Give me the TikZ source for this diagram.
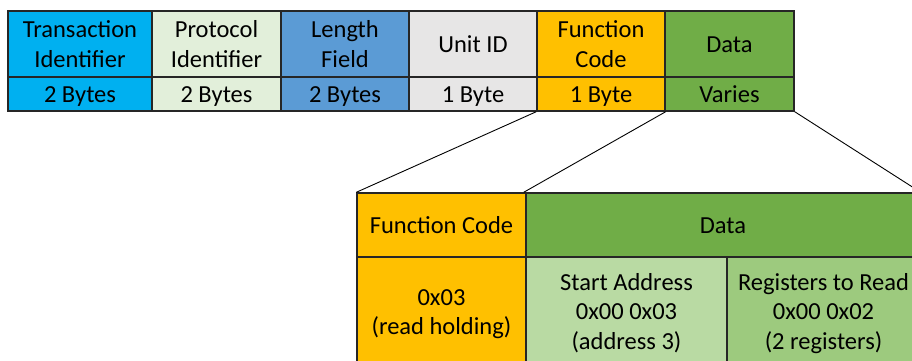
\documentclass[tikz,border=0pt]{standalone}
\usepackage{fontspec}
\setmainfont{Carlito}
\definecolor{cTid}{HTML}{00B0F0}
\definecolor{cPid}{HTML}{E2EFDA}
\definecolor{cLen}{HTML}{5B9BD5}
\definecolor{cUid}{HTML}{E7E6E6}
\definecolor{cFc}{HTML}{FFC000}
\definecolor{cData}{HTML}{70AD47}
\definecolor{cAddr}{HTML}{B9DAA3}
\definecolor{cRegs}{HTML}{9DCA7E}
\definecolor{cEdge}{HTML}{262626}
% fixed line extents so every cell centres its text the same way
\newcommand\topst{\rule{0pt}{23.4pt}}
\newcommand\botst{\rule[-6.8pt]{0pt}{6.8pt}}
\tikzset{
  cell/.style={draw=cEdge, line width=1.4pt, inner sep=0pt, align=center,
    font=\fontsize{24.5}{29.5}\selectfont, text=black},
  zoomline/.style={draw=black, line width=0.9pt}
}
\begin{document}
\begin{tikzpicture}[x=1pt,y=-1pt]
\useasboundingbox (0,0) rectangle (912,360);
\clip (0,0) rectangle (912,360);

% MBAP header and PDU fields
\node[cell, fill=cTid, minimum width=144pt, minimum height=66pt] (tid) at (80,44) {\topst Transaction\\Identifier\botst};
\node[cell, fill=cTid, minimum width=144pt, minimum height=34pt] (tidb) at (80,94) {\topst 2 Bytes\botst};
\node[cell, fill=cPid, minimum width=129pt, minimum height=66pt] (pid) at (216.5,44) {\topst Protocol\\Identifier\botst};
\node[cell, fill=cPid, minimum width=129pt, minimum height=34pt] (pidb) at (216.5,94) {\topst 2 Bytes\botst};
\node[cell, fill=cLen, minimum width=128pt, minimum height=66pt] (len) at (345,44) {\topst Length\\Field\botst};
\node[cell, fill=cLen, minimum width=128pt, minimum height=34pt] (lenb) at (345,94) {\topst 2 Bytes\botst};
\node[cell, fill=cUid, minimum width=128pt, minimum height=66pt] (uid) at (473,44) {\topst Unit ID\botst};
\node[cell, fill=cUid, minimum width=128pt, minimum height=34pt] (uidb) at (473,94) {\topst 1 Byte\botst};
\node[cell, fill=cFc, minimum width=128pt, minimum height=66pt] (fc) at (601,44) {\topst Function\\Code\botst};
\node[cell, fill=cFc, minimum width=128pt, minimum height=34pt] (fcb) at (601,94) {\topst 1 Byte\botst};
\node[cell, fill=cData, minimum width=129pt, minimum height=66pt] (data) at (729.5,44) {\topst Data\botst};
\node[cell, fill=cData, minimum width=129pt, minimum height=34pt] (datab) at (729.5,94) {\topst Varies\botst};

% Expanded PDU
\node[cell, fill=cFc, minimum width=169pt, minimum height=64pt] (bfc) at (441.5,225) {\topst Function Code\botst};
\node[cell, fill=cData, minimum width=394pt, minimum height=64pt] (bdata) at (723,225) {\topst Data\botst};
\node[cell, fill=cFc, minimum width=169pt, minimum height=108pt] (bfcv) at (441.5,311.5) {\topst 0x03\\(read holding)\botst};
\node[cell, fill=cAddr, minimum width=201pt, minimum height=108pt] (baddr) at (626.5,311.5) {\topst Start Address\\0x00 0x03\\(address 3)\botst};
\node[cell, fill=cRegs, minimum width=193pt, minimum height=108pt] (bregs) at (823.5,311.5) {\topst Registers to Read\\0x00 0x02\\(2 registers)\botst};

% Zoom lines
\draw[zoomline] (fcb.south west) -- (bfc.north west);
\draw[zoomline] (fcb.south east) -- ([xshift=-3pt]bfc.north east);
\draw[zoomline] (datab.south east) -- (bdata.north east);
\end{tikzpicture}
\end{document}
